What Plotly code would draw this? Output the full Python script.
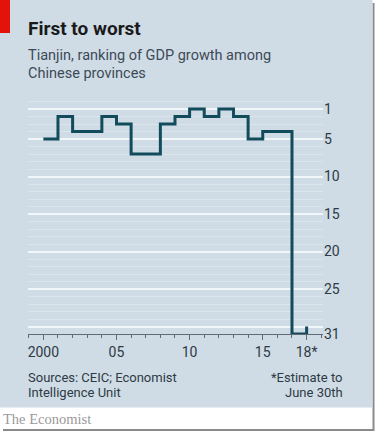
import plotly.graph_objects as go

# ---- data ----
years = list(range(2000, 2019))
ranks = [5, 2, 4, 4, 2, 3, 7, 7, 3, 2, 1, 2, 1, 2, 5, 4, 4, 31, 30]
x_tickvals = [2000, 2005, 2010, 2015, 2018]
x_ticktext = ["2000", "05", "10", "15", "18*"]
y_tickvals = [1, 5, 10, 15, 20, 25, 30, 31]
y_ticktext = ["1", "5", "10", "15", "20", "25", "", "31"]

W, H = 377, 434
L, R, T, B = 28, 54, 100, 100
PW, PH = W - L - R, H - T - B

def px(x):
    return (x - L) / PW

def py(y):
    return (H - B - y) / PH

BG = "#cfdce6"
FONT = "Roboto"
TXT = "#2e3a44"

fig = go.Figure()
fig.add_trace(go.Scatter(
    x=years, y=ranks, mode="lines",
    line=dict(shape="hv", color="#124b5b", width=3),
    hoverinfo="skip", showlegend=False,
))

shapes = [
    # shadow
    dict(type="rect", xref="paper", yref="paper", x0=px(3), x1=px(374.5), y0=py(3), y1=py(431),
         fillcolor="#8a8a8a", line=dict(width=0), layer="below"),
    dict(type="rect", xref="paper", yref="paper", x0=px(-2), x1=px(372.5), y0=py(-2), y1=py(429),
         fillcolor="white", line=dict(width=0), layer="below"),
    # blue panel
    dict(type="rect", xref="paper", yref="paper", x0=px(-2), x1=px(372.5), y0=py(-2), y1=py(407.5),
         fillcolor=BG, line=dict(width=0), layer="below"),
    # red tag
    dict(type="rect", xref="paper", yref="paper", x0=px(-2), x1=px(10), y0=py(-2), y1=py(33),
         fillcolor="#e3120b", line=dict(width=0), layer="below"),
]

annotations = [
    dict(text="<b>First to worst</b>", x=px(26), y=py(42), xanchor="left", yanchor="bottom",
         font=dict(family=FONT, size=19, color="#1a1a1a")),
    dict(text="Tianjin, ranking of GDP growth among", x=px(26), y=py(55),
         xanchor="left", yanchor="middle", align="left",
         font=dict(family=FONT, size=14.5, color="#3d4a56")),
    dict(text="Chinese provinces", x=px(26), y=py(74),
         xanchor="left", yanchor="middle", align="left",
         font=dict(family=FONT, size=14.5, color="#3d4a56")),
    dict(text="Sources: CEIC; Economist", x=px(26), y=py(377),
         xanchor="left", yanchor="middle", align="left",
         font=dict(family=FONT, size=13, color=TXT)),
    dict(text="Intelligence Unit", x=px(26), y=py(392),
         xanchor="left", yanchor="middle", align="left",
         font=dict(family=FONT, size=13, color=TXT)),
    dict(text="*Estimate to", x=px(345), y=py(377),
         xanchor="right", yanchor="middle", align="right",
         font=dict(family=FONT, size=13, color=TXT)),
    dict(text="June 30th", x=px(345), y=py(392),
         xanchor="right", yanchor="middle", align="right",
         font=dict(family=FONT, size=13, color=TXT)),
    dict(text="The Economist", x=px(1), y=py(419), xanchor="left", yanchor="middle",
         font=dict(family="Liberation Serif", size=14.5, color="#9a9a9a")),
]
for a in annotations:
    a.update(xref="paper", yref="paper", showarrow=False)

fig.update_layout(
    width=W, height=H,
    margin=dict(l=L, r=R, t=T, b=B),
    paper_bgcolor="white", plot_bgcolor="rgba(0,0,0,0)",
    shapes=shapes, annotations=annotations,
    font=dict(family=FONT, size=14, color=TXT),
)
fig.update_xaxes(
    range=[1998.95, 2019.12], tickmode="array", tickvals=x_tickvals, ticktext=x_ticktext,
    showgrid=False, zeroline=False, showline=True, linecolor="#5d6b74", linewidth=1,
    ticks="outside", ticklen=5, tickcolor="#5d6b74", tickwidth=1,
    minor=dict(tick0=2000, dtick=1, ticks="outside", ticklen=3, tickcolor="#5d6b74", showgrid=False),
    tickfont=dict(family=FONT, size=14, color=TXT), fixedrange=True, automargin=False,
)
fig.update_yaxes(
    range=[31, -0.2], side="right", tickmode="array", tickvals=y_tickvals, ticktext=y_ticktext,
    showgrid=True, gridcolor="#f1f6f9", gridwidth=2, zeroline=False, ticks="",
    minor=dict(tick0=0, dtick=1, showgrid=True, gridcolor="#dbe5ec", gridwidth=1),
    tickfont=dict(family=FONT, size=14, color=TXT), fixedrange=True, automargin=False,
)

fig.write_html(
    "out.html",
    config=dict(displayModeBar=False),
    post_script="document.body.style.margin='0';document.body.style.overflow='hidden';",
)
